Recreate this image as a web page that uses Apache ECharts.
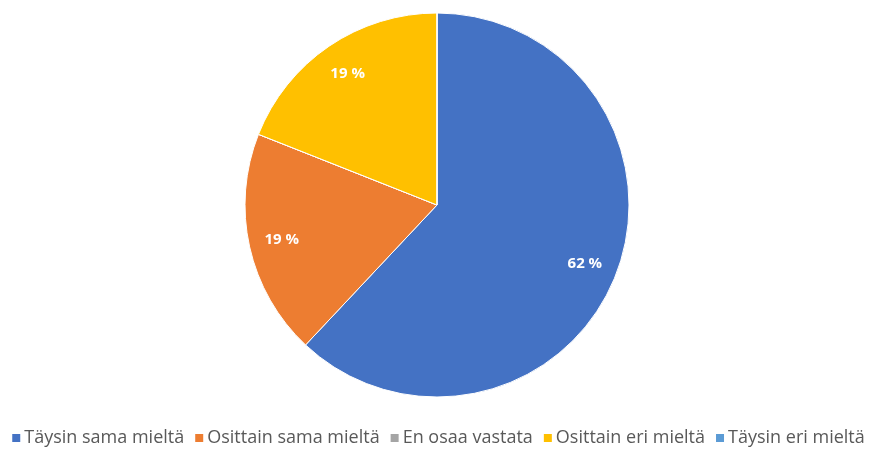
<!DOCTYPE html>
<html>
<head>
<meta charset="utf-8">
<script src="https://cdn.jsdelivr.net/npm/echarts@6/dist/echarts.min.js"></script>
<style>
  html, body { margin: 0; padding: 0; background: #fff; }
  #chart { width: 875px; height: 450px; }
</style>
</head>
<body>
<div id="chart"></div>
<script>
const categories = ['Täysin sama mieltä', 'Osittain sama mieltä', 'En osaa vastata', 'Osittain eri mieltä', 'Täysin eri mieltä']
const shares = [62, 19, 0, 19, 0]
const colors = ['#4472c4', '#ed7d31', '#a5a5a5', '#ffc000', '#5b9bd5']

const pieData = categories.map((name, i) => ({ name, value: shares[i] }))

const chart = echarts.init(document.getElementById('chart'))

chart.setOption({
    backgroundColor: '#fff',
    color: colors,
    animation: false,
    legend: {
        top: 424,
        left: 'center',
        icon: 'rect',
        itemWidth: 10,
        itemHeight: 10,
        itemGap: 9,
        textStyle: {
            fontFamily: 'Open Sans',
            fontSize: 18,
            color: '#595959',
            padding: [0, 0, 0, -2]
        },
        data: categories
    },
    series: [
        {
            type: 'pie',
            center: [437, 205],
            radius: [0, 192],
            startAngle: 90,
            clockwise: true,
            itemStyle: { borderColor: '#fff', borderWidth: 1 },
            label: { show: false },
            labelLine: { show: false },
            emphasis: { disabled: true },
            data: pieData
        },
        {
            // transparent copy only used to place the labels further out
            type: 'pie',
            center: [437, 205],
            radius: [0, 312],
            startAngle: 90,
            clockwise: true,
            silent: true,
            itemStyle: { color: 'rgba(0,0,0,0)', borderWidth: 0 },
            label: {
                show: true,
                position: 'inside',
                color: '#fff',
                fontFamily: 'Open Sans',
                fontWeight: 'bold',
                fontSize: 15,
                formatter: (p) => p.value > 0 ? p.value + ' %' : ''
            },
            labelLine: { show: false },
            emphasis: { disabled: true },
            legendHoverLink: false,
            data: pieData
        }
    ]
})
</script>
</body>
</html>
